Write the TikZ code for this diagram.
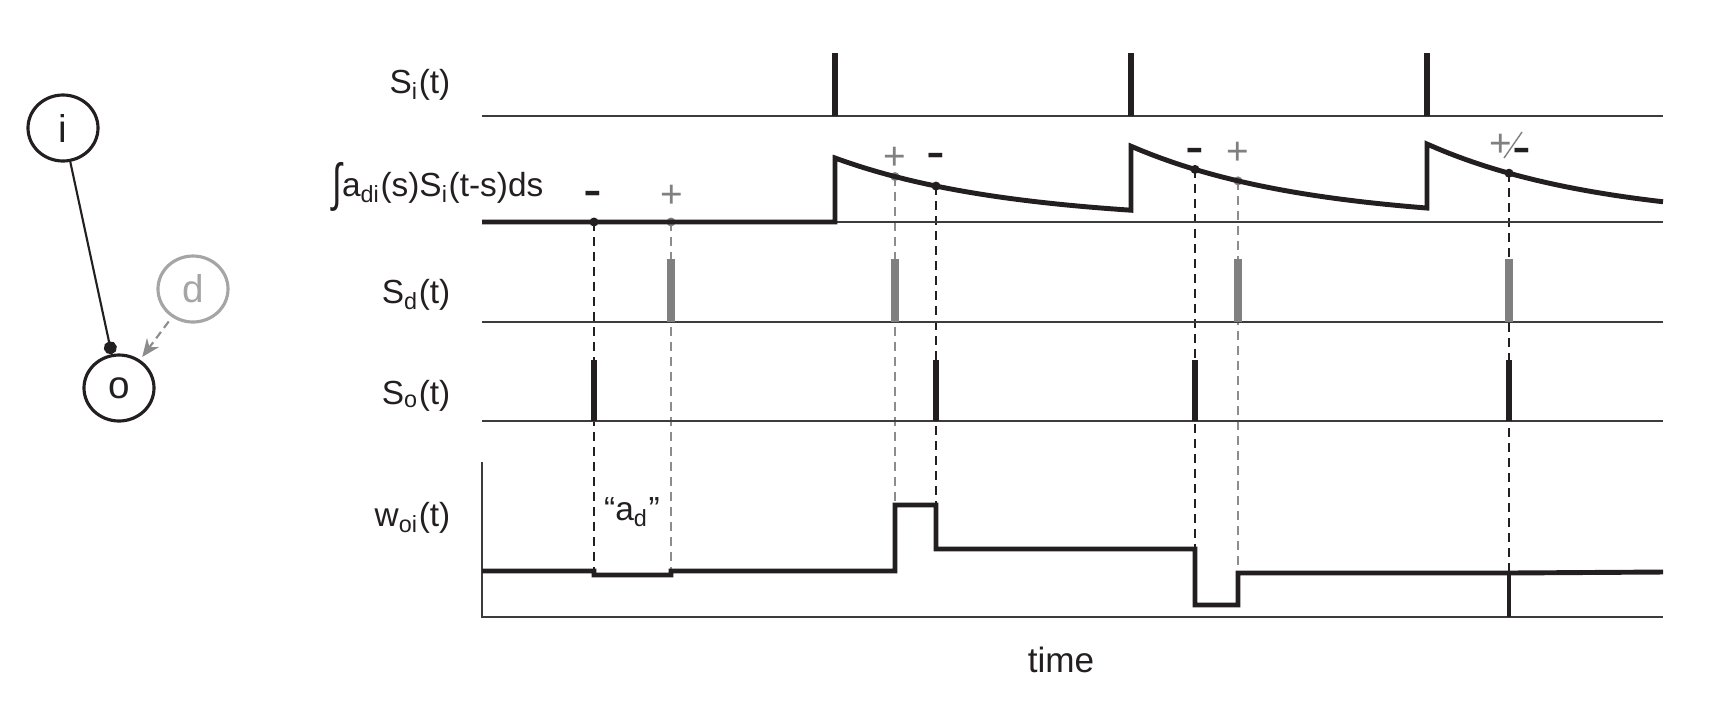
\documentclass[tikz,border=0pt]{standalone}
\usepackage{fontspec}
\setmainfont{Liberation Sans}
\usepackage{xcolor}
\usepackage{tikz}
\usetikzlibrary{arrows.meta,shapes.geometric}
\definecolor{ink}{RGB}{35,31,32}
\definecolor{axisgray}{RGB}{60,60,60}
\definecolor{spkgray}{RGB}{128,128,128}
\definecolor{dashgray}{RGB}{140,140,140}
\definecolor{nodegray}{RGB}{165,165,165}
\newcommand{\sub}[1]{\textsubscript{#1}}
\newcommand{\bigint}{\raisebox{-0.28ex}{\scalebox{1.05}[1.55]{∫}}}
\tikzset{
  nrn/.style  ={draw=ink, ellipse, line width=0.9pt, minimum width=7mm, minimum height=6.6mm,
                inner sep=0pt, text=ink, font=\fontsize{11}{11}\selectfont},
  lbl/.style  ={anchor=base east, inner sep=0pt, text=ink, font=\fontsize{9.5}{11}\selectfont},
  ax/.style   ={draw=axisgray, line width=0.6pt},
  trace/.style={draw=ink, line width=1.4pt},
  spk/.style  ={draw=ink, line width=1.9pt},
  gspk/.style ={draw=spkgray, line width=2.1pt},
  vd/.style   ={draw=ink, line width=0.55pt, dash pattern=on 0.9mm off 0.6mm},
  gvd/.style  ={draw=dashgray, line width=0.55pt, dash pattern=on 0.9mm off 0.6mm},
  psgn/.style ={inner sep=0pt, yshift=-0.2mm, text=spkgray, font=\fontsize{11}{11}\selectfont},
  msgn/.style ={inner sep=0pt, yshift=-0.5mm, text=ink, font=\fontsize{16}{16}\selectfont},
}

\begin{document}
\begin{tikzpicture}[declare function={kd(\s)=0.64*exp(-\s/1.75);
    ff(\s)=(\s>8.35)*kd(\s-8.35)+(\s>11.31)*kd(\s-11.31)+(\s>14.27)*kd(\s-14.27);}]
\useasboundingbox (0,0) rectangle (17.3,7);

% small circuit
\node[nrn] (i) at (0.63,5.72) {i};
\node[nrn] (o) at (1.19,3.12) {o};
\node[nrn,draw=nodegray,text=nodegray] (d) at (1.93,4.11) {d};
\draw[ink,line width=0.6pt,-{Circle[length=1.3mm]}] (i) -- (o);
\draw[dashgray,line width=0.6pt,dash pattern=on 0.8mm off 0.5mm,-{Stealth[length=1.8mm,width=1.5mm]},
  shorten <=1.5pt, shorten >=1pt] (d) -- (o);

% row labels
\node[lbl] (si) at (4.51,6.07) {S\sub{i}(t)};
\node[lbl] (conv) at (5.44,5.04) {\bigint a\sub{di}(s)S\sub{i}(t-s)ds};
\node[lbl] (sd) at (4.51,3.965) {S\sub{d}(t)};
\node[lbl] (so) at (4.51,2.96) {S\sub{o}(t)};
\node[lbl] (woi) at (4.51,1.74) {w\sub{oi}(t)};
\node[lbl,anchor=base] (ad) at (6.32,1.80) {``a\sub{d}''};
\node[lbl,anchor=base,font=\fontsize{10}{12}\selectfont] (tm) at (10.61,0.28) {time};

% dashed guides from the filtered input down to the weight
\foreach \t/\w/\s/\c in {5.94/1.25/vd/ink, 6.71/1.25/gvd/spkgray, 8.95/1.95/gvd/spkgray,
    9.36/1.95/vd/ink, 11.95/1.51/vd/ink, 12.38/1.27/gvd/spkgray, 15.09/1.27/vd/ink}
  {\draw[\s] (\t,{4.78+ff(\t)}) -- (\t,\w);
   \fill[\c] (\t,{4.78+ff(\t)}) circle (0.45mm);}

% axes
\foreach \y in {5.84,4.78,3.78,2.79} \draw[ax] (4.82,\y) -- (16.63,\y);
\draw[ax] (4.82,2.38) -- (4.82,0.83) -- (16.63,0.83);

% spikes
\foreach \t in {8.35,11.31,14.27} \draw[spk] (\t,5.84) -- (\t,6.47);
\foreach \t in {6.71,8.95,12.38,15.09} \draw[gspk] (\t,3.78) -- (\t,4.41);
\foreach \t in {5.94,9.36,11.95,15.09} \draw[spk] (\t,2.79) -- (\t,3.40);

% filtered input
\draw[trace] (4.82,4.78) -- (8.35,4.78)
  -- plot[domain=8.35:11.31,samples=30] (\x,{4.78+kd(\x-8.35)})
  -- plot[domain=11.31:14.27,samples=30] (\x,{4.78+kd(\x-8.35)+kd(\x-11.31)})
  -- plot[domain=14.27:16.63,samples=25] (\x,{4.78+kd(\x-8.35)+kd(\x-11.31)+kd(\x-14.27)});

% weight
\draw[trace] (4.82,1.29) -- (5.94,1.29) -- (5.94,1.25) -- (6.71,1.25) -- (6.71,1.29) -- (8.95,1.29)
  -- (8.95,1.95) -- (9.36,1.95) -- (9.36,1.51) -- (11.95,1.51) -- (11.95,0.95) -- (12.38,0.95)
  -- (12.38,1.27) -- (15.09,1.27) -- (16.63,1.28);
\draw[trace] (15.09,1.27) -- (15.09,0.83);

% signs
\node[msgn] (m1) at (5.93,5.05) {-};   \node[psgn] (p1) at (6.72,5.06) {+};
\node[psgn] (p2) at (8.95,5.44) {+};   \node[msgn] (m2) at (9.36,5.43) {-};
\node[msgn] (m3) at (11.95,5.48) {-};  \node[psgn] (p3) at (12.38,5.49) {+};
\node[psgn] (p4) at (15.01,5.57) {+};  \node[msgn] (m4) at (15.22,5.48) {-};
\coordinate (sl1) at (15.04,5.42); \coordinate (sl2) at (15.22,5.68);
\draw[spkgray,line width=0.4pt] (sl1) -- (sl2);
\end{tikzpicture}
\end{document}
